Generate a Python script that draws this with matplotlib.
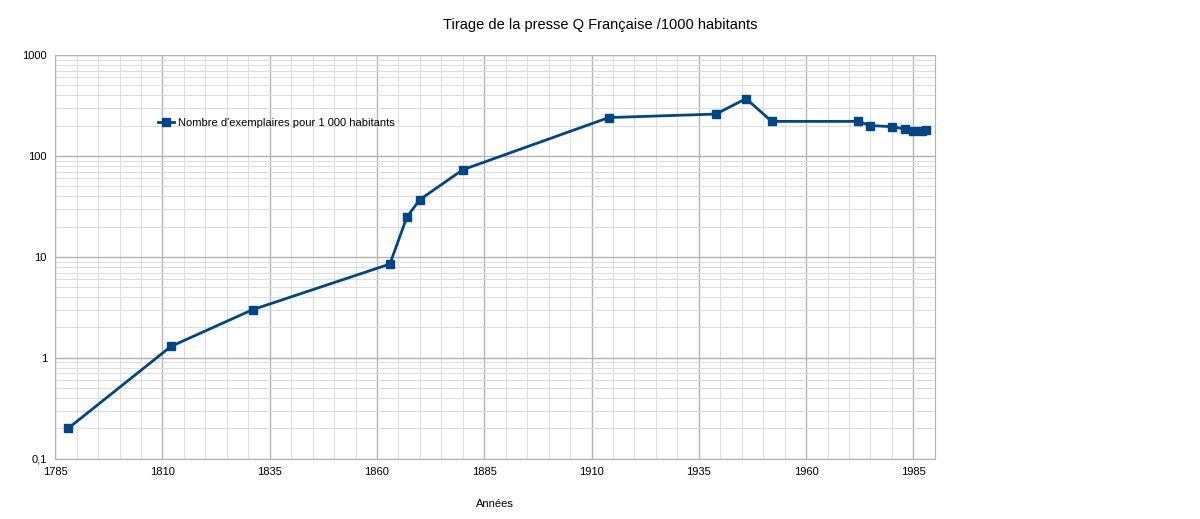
import matplotlib
matplotlib.use("Agg")
import matplotlib.pyplot as plt
from matplotlib.ticker import LogLocator, FixedLocator, FuncFormatter
import numpy as np

plt.rcParams['font.family'] = ['Liberation Sans', 'DejaVu Sans']

years = [1788, 1812, 1831, 1863, 1867, 1870, 1880, 1914, 1939, 1946, 1952,
         1972, 1975, 1980, 1983, 1985, 1987, 1988]
values = [0.2, 1.3, 3.0, 8.5, 25, 37, 73, 240, 260, 370, 220,
          220, 200, 195, 185, 178, 178, 182]

fig = plt.figure(figsize=(12, 5.19), dpi=100)
ax = fig.add_axes([0.046, 0.116, 0.733, 0.778])

ax.plot(years, values, color='#004586', lw=2, marker='s', ms=6,
        label="Nombre d'exemplaires pour 1 000 habitants")
ax.set_yscale('log')
ax.set_ylim(0.1, 1000)
ax.set_xlim(1785, 1990)
ax.xaxis.set_major_locator(FixedLocator(np.arange(1785, 1990, 25)))
ax.xaxis.set_minor_locator(FixedLocator(np.arange(1785, 1991, 5)))
ax.yaxis.set_major_locator(LogLocator(base=10))
ax.yaxis.set_minor_locator(LogLocator(base=10, subs=np.arange(2, 10)))
ax.yaxis.set_major_formatter(FuncFormatter(lambda v, p: ('%g' % v).replace('.', ',')))
ax.yaxis.set_minor_formatter(FuncFormatter(lambda v, p: ''))
ax.grid(which='major', color='#b3b3b3', lw=1)
ax.grid(which='minor', color='#dddddd', lw=0.7)
ax.set_axisbelow(True)
for s in ax.spines.values():
    s.set_color('#b3b3b3')
ax.tick_params(which='both', length=0, labelsize=8, pad=6)

ax.set_xlabel('Années', fontsize=8, labelpad=16)
fig.text(0.5, 0.945, 'Tirage de la presse Q Française /1000 habitants',
         ha='center', fontsize=10.5)
ax.legend(loc='upper left', bbox_to_anchor=(0.105, 0.87), frameon=False,
          fontsize=8, handlelength=1.5, handletextpad=0.3)

fig.savefig('out.png')
